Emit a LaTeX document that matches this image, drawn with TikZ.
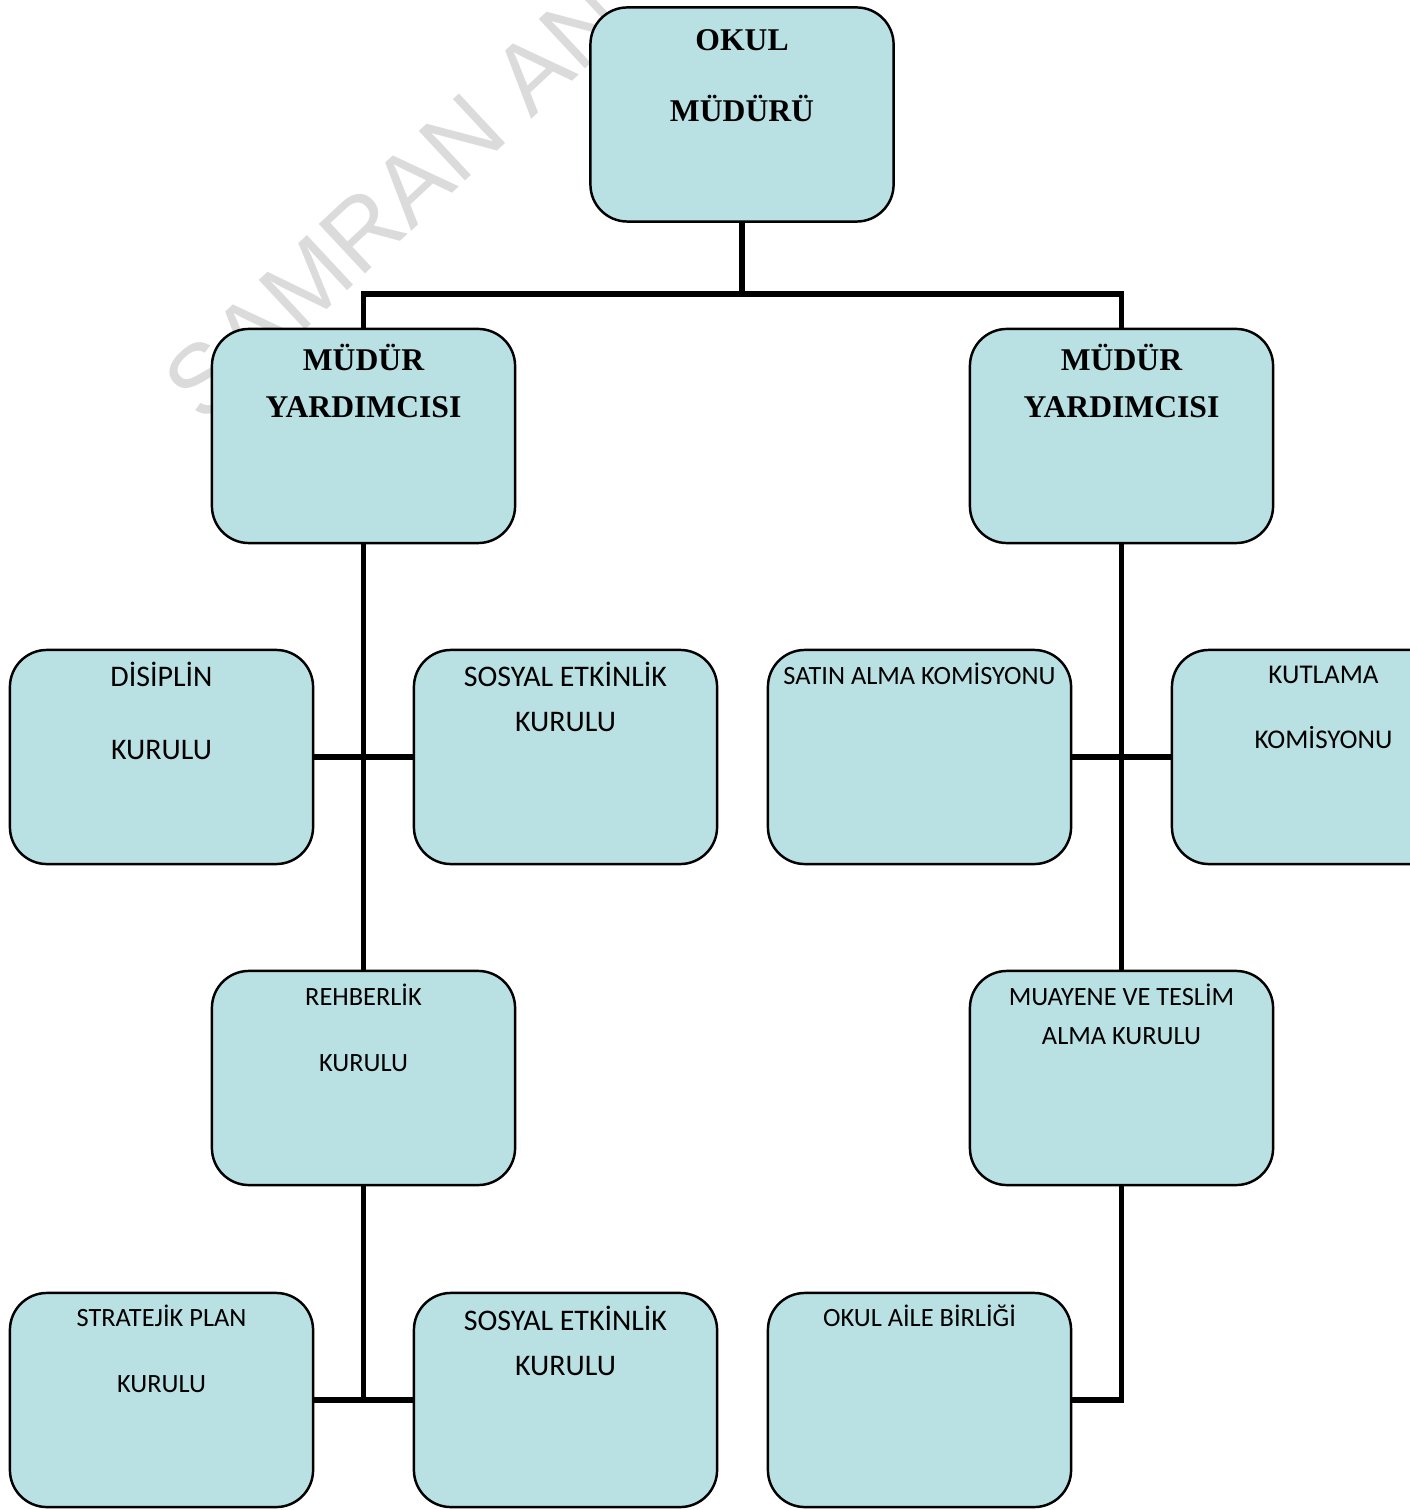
\documentclass[tikz,border=0pt]{standalone}
\usepackage{fontspec}
\setmainfont{Liberation Serif}
\newfontfamily\calibri{Carlito}
\newfontfamily\damgafont{Liberation Sans}
\usetikzlibrary{positioning, calc}
\definecolor{kutumavi}{RGB}{185,224,227}
\newcommand{\kutuyazi}[2]{\begin{minipage}[c][2.14cm][t]{3.03cm}\centering\rule{0pt}{#1}#2\end{minipage}}

\begin{document}
\begin{tikzpicture}[
    x=0.01cm, y=-0.01cm,
    kutu/.style={draw, fill=kutumavi, rounded corners=0.37cm, minimum width=3.03cm,
                 minimum height=2.14cm, inner sep=0pt, line width=0.7pt},
    mudur/.style={kutu, font=\bfseries\fontsize{9}{13.4}\selectfont},
    kurul/.style={kutu, font=\calibri\fontsize{7.5}{18.8}\selectfont},
    buyukkurul/.style={kutu, font=\calibri\fontsize{8.5}{12.8}\selectfont},
    bag/.style={line width=1.45pt},
    damga/.style={text=black!14, font=\damgafont\fontsize{28}{28}\selectfont,
                  rotate=43, anchor=base west, inner sep=0pt}
]
\useasboundingbox (0,0) rectangle (1410,1510);

% watermark
\begin{scope}
\clip (0,0) rectangle (1410,1510);
\node[damga] (damga) at (203,426) {SAMRAN AN};
\end{scope}

% top
\node[mudur] (okul) at (742,114.5) {\kutuyazi{0.435cm}{OKUL\\[6.8pt] MÜDÜRÜ}};
\node[mudur] (myl) at (363.5,436) {\kutuyazi{0.415cm}{MÜDÜR\\ YARDIMCISI}};
\node[mudur] (myr) at (1121.5,436) {\kutuyazi{0.415cm}{MÜDÜR\\ YARDIMCISI}};

% left branch
\node[buyukkurul] (disiplin) at (161.5,757) {\kutuyazi{0.37cm}{DİSİPLİN\\[7.7pt] KURULU}};
\node[buyukkurul] (sosyal1) at (565.5,757) {\kutuyazi{0.37cm}{SOSYAL ETKİNLİK\\ KURULU}};
\node[kurul] (rehber) at (363.5,1078) {\kutuyazi{0.345cm}{REHBERLİK\\ KURULU}};
\node[kurul] (strateji) at (161.5,1400) {\kutuyazi{0.335cm}{STRATEJİK PLAN\\ KURULU}};
\node[buyukkurul] (sosyal2) at (565.5,1400) {\kutuyazi{0.38cm}{SOSYAL ETKİNLİK\\ KURULU}};

% right branch
\node[kurul] (satin) at (919.5,757) {\kutuyazi{0.345cm}{SATIN ALMA KOMİSYONU}};
\node[kurul, font=\calibri\fontsize{7.7}{18.5}\selectfont] (kutlama) at (1323.5,757) {\kutuyazi{0.335cm}{KUTLAMA\\ KOMİSYONU}};
\node[kurul, font=\calibri\fontsize{7.5}{11.1}\selectfont] (muayene) at (1121.5,1078) {\kutuyazi{0.345cm}{MUAYENE VE TESLİM\\ ALMA KURULU}};
\node[kurul] (aile) at (919.5,1400) {\kutuyazi{0.335cm}{OKUL AİLE BİRLİĞİ}};

% connectors
\coordinate (bus) at (742,294);
\draw[bag] (okul.south) -- (bus);
\draw[bag] (myl.north) |- (bus) -| (myr.north);

\draw[bag] (myl.south) -- (rehber.north);
\draw[bag] (disiplin.east) -- (sosyal1.west);
\draw[bag] (rehber.south) -- (rehber.south |- strateji.east);
\draw[bag] (strateji.east) -- (sosyal2.west);

\draw[bag] (myr.south) -- (muayene.north);
\draw[bag] (satin.east) -- (kutlama.west);
\draw[bag] (muayene.south) |- (aile.east);
\end{tikzpicture}
\end{document}
